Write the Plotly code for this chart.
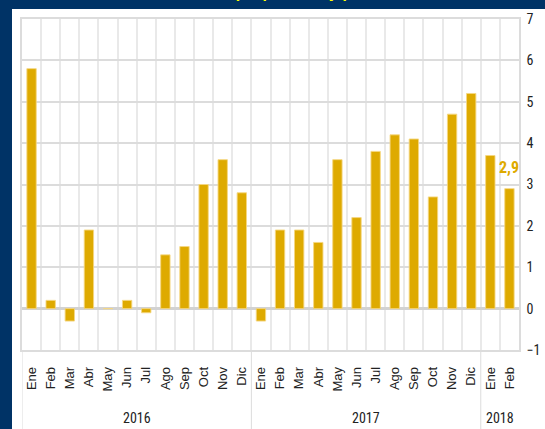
import plotly.graph_objects as go

# ---- data ----
months = ["Ene", "Feb", "Mar", "Abr", "May", "Jun", "Jul", "Ago", "Sep", "Oct", "Nov", "Dic",
          "Ene", "Feb", "Mar", "Abr", "May", "Jun", "Jul", "Ago", "Sep", "Oct", "Nov", "Dic",
          "Ene", "Feb"]
year_labels = ["2016", "2017", "2018"]
year_counts = [12, 12, 2]
values = [5.8, 0.2, -0.3, 1.9, 0.0, 0.2, -0.1, 1.3, 1.5, 3.0, 3.6, 2.8,
          -0.3, 1.9, 1.9, 1.6, 3.6, 2.2, 3.8, 4.2, 4.1, 2.7, 4.7, 5.2,
          3.7, 2.9]
title_text = "(en porcentaje)"

# ---- layout geometry (pixels) ----
W, H = 545, 429
ML, MR, MT, MB = 22, 26, 19, 79
PW, PH = W - ML - MR, H - MT - MB

def px_x(p):
    return (p - ML) / PW

def px_y(p):
    return (H - MB - p) / PH

BAR = "#DEAA00"
GRID = "#dcdcdc"
VGRID = "#e9e9e9"
NAVY = "#003366"
NARROW = "Liberation Sans Narrow, Arial Narrow, Roboto Condensed, Liberation Sans, Arial, sans-serif"

x = list(range(len(values)))
n = len(values)

fig = go.Figure()
fig.add_trace(go.Bar(
    x=x, y=values,
    marker=dict(color=BAR, line=dict(color="rgba(245,215,130,0.9)", width=1)),
    width=0.49,
    hoverinfo="skip",
))

# last value label
last_lbl = f"{values[-1]:.1f}".replace(".", ",")
fig.add_annotation(x=x[-1], y=values[-1], xref="x", yref="y",
                   text=f"<b>{last_lbl}</b>", showarrow=False,
                   yanchor="bottom", yshift=10,
                   font=dict(family=NARROW, size=16, color=BAR))

# year group labels and separators
boundaries = [-0.5]
acc = -0.5
for c in year_counts:
    acc += c
    boundaries.append(acc)
shapes = []
# white card over navy paper
shapes.append(dict(type="rect", xref="paper", yref="paper", layer="below",
                   x0=px_x(12), x1=px_x(W + 10), y0=px_y(H + 10), y1=px_y(9),
                   fillcolor="white", line=dict(width=0)))
for b in boundaries[:-1]:
    shapes.append(dict(type="line", xref="x", yref="paper", x0=b, x1=b,
                       y0=0, y1=px_y(H + 2), line=dict(color=GRID, width=1)))
start = -0.5
for lbl, c in zip(year_labels, year_counts):
    fig.add_annotation(x=start + c / 2, y=px_y(418), xref="x", yref="paper",
                       text=lbl, showarrow=False, yanchor="middle",
                       font=dict(family=NARROW, size=14, color="#222222"))
    start += c

# partially visible title on top navy strip
fig.add_annotation(x=px_x(291), y=px_y(3.5), xref="paper", yref="paper",
                   text=f"<b>{title_text}</b>", showarrow=False, yanchor="bottom",
                   font=dict(family="Liberation Sans, Arial", size=16, color="#FFFF00"))

fig.update_layout(
    width=W, height=H,
    margin=dict(l=ML, r=MR, t=MT, b=MB, pad=0, autoexpand=False),
    paper_bgcolor=NAVY, plot_bgcolor="white",
    showlegend=False,
    shapes=shapes,
    bargap=0.5,
)
fig.update_xaxes(
    range=[-0.5, n - 0.5],
    tickmode="array", tickvals=x, ticktext=months,
    tickangle=-90, ticks="", ticklabelstandoff=10,
    tickfont=dict(family="Liberation Sans, Arial", size=13, color="#222222"),
    showgrid=False, zeroline=False,
    showline=True, mirror=True, linecolor=GRID, linewidth=1.5,
    minor=dict(tickmode="array", tickvals=[i - 0.5 for i in range(n + 1)],
               showgrid=True, gridcolor=VGRID, gridwidth=1.5, ticks=""),
)
fig.update_yaxes(
    range=[-1, 7], dtick=1, side="right",
    tickfont=dict(family=NARROW, size=14, color="#222222"),
    ticks="", ticklabelstandoff=3,
    showgrid=True, gridcolor=GRID, gridwidth=1.5,
    zeroline=True, zerolinecolor="#d2d2d2", zerolinewidth=2.5,
    showline=True, mirror=True, linecolor=GRID, linewidth=1.5,
)

fig.write_html("out.html", config={"displayModeBar": False},
               post_script="document.body.style.margin='0';document.body.style.overflow='hidden';")
